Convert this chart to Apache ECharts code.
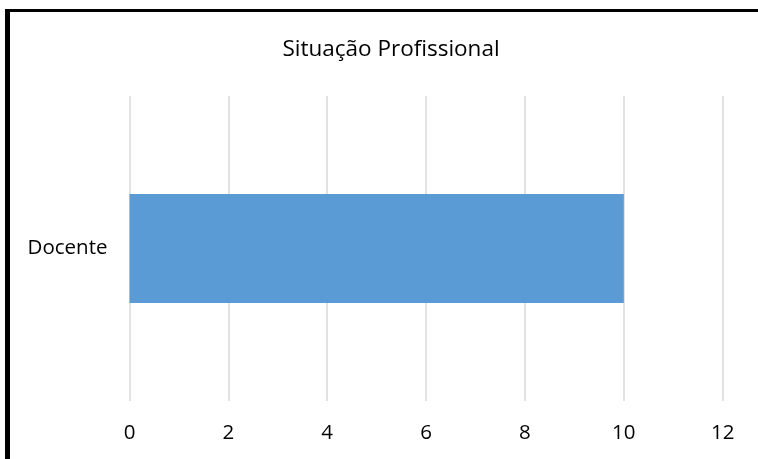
<!DOCTYPE html>
<html>
<head>
<meta charset="utf-8">
<script src="https://cdn.jsdelivr.net/npm/echarts@6/dist/echarts.min.js"></script>
<style>
  html, body { margin: 0; padding: 0; background: #fff; }
  #chart { width: 758px; height: 459px; }
</style>
</head>
<body>
<div id="chart"></div>
<script>
var categories = ['Docente'];
var values = [10];
var chartTitle = 'Situação Profissional';

var myChart = echarts.init(document.getElementById('chart'));
var option = {
    animation: false,
    title: {
        text: chartTitle,
        left: 386,
        textAlign: 'center',
        top: 33,
        textStyle: {
            color: '#000',
            fontWeight: 'normal',
            fontFamily: 'Open Sans',
            fontSize: 22.5
        }
    },
    // cadre noir (gauche + haut)
    graphic: [
        { type: 'rect', shape: { x: 5, y: 9, width: 5, height: 450 }, style: { fill: '#000' } },
        { type: 'rect', shape: { x: 5, y: 9, width: 753, height: 3 }, style: { fill: '#000' } }
    ],
    grid: {
        left: 129.5,
        right: 35.3,
        top: 96,
        bottom: 58
    },
    xAxis: {
        type: 'value',
        min: 0,
        max: 12,
        interval: 2,
        axisLine: { show: false },
        axisTick: { show: false },
        axisLabel: {
            color: '#000',
            fontFamily: 'Open Sans',
            fontSize: 20.5,
            margin: 22
        },
        splitLine: {
            lineStyle: { color: '#d9d9d9', width: 1.5 }
        }
    },
    yAxis: {
        type: 'category',
        data: categories,
        axisLine: { show: false },
        axisTick: { show: false },
        axisLabel: {
            color: '#000',
            fontFamily: 'Open Sans',
            fontSize: 20.5,
            margin: 22
        }
    },
    series: [
        {
            type: 'bar',
            data: values,
            barWidth: '35.7%',
            itemStyle: { color: '#5b9bd5' }
        }
    ]
};
myChart.setOption(option);
</script>
</body>
</html>
